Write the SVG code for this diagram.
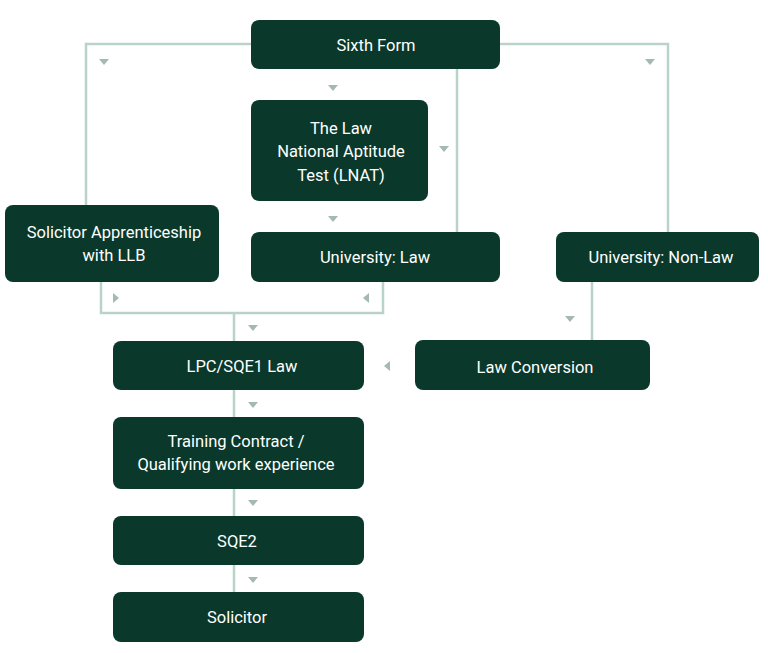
<svg xmlns="http://www.w3.org/2000/svg" width="768" height="653" viewBox="0 0 768 653">
<style>
.box{fill:#0a392b}
.t{font-family:Roboto,"Liberation Sans",sans-serif;font-size:16.5px;fill:#ffffff;text-anchor:middle}
.ln{fill:none;stroke:#b9d3c9;stroke-width:2.5}
.ah{fill:#a3b9b1}
</style>
<defs>
<polygon id="ad" points="-5,-3 5,-3 0,3"/>
<polygon id="ar" points="-3,-5 -3,5 3,0"/>
<polygon id="al" points="3,-5 3,5 -3,0"/>
</defs>
<rect width="768" height="653" fill="#ffffff"/>
<g id="connectors">
<polyline class="ln" points="252,44 86,44 86,205"/>
<polyline class="ln" points="499,44 668,44 668,232"/>
<line class="ln" x1="457" y1="69" x2="457" y2="232"/>
<polyline class="ln" points="101,282 101,313 383,313 383,282"/>
<line class="ln" x1="234" y1="313" x2="234" y2="592"/>
<line class="ln" x1="592" y1="282" x2="592" y2="340"/>
<g class="ah">
<use href="#ad" x="104" y="62"/>
<use href="#ad" x="333" y="88"/>
<use href="#ad" x="650" y="62"/>
<use href="#ad" x="444" y="149"/>
<use href="#ad" x="333" y="219"/>
<use href="#ar" x="116" y="298"/>
<use href="#al" x="366" y="298"/>
<use href="#ad" x="253" y="328"/>
<use href="#ad" x="570" y="319"/>
<use href="#al" x="387" y="366"/>
<use href="#ad" x="253" y="405"/>
<use href="#ad" x="253" y="503"/>
<use href="#ad" x="253" y="580"/>
</g>
</g>
<g id="sixth-form">
<rect class="box" x="251" y="20" width="249" height="49" rx="8"/>
<text class="t" x="376" y="51">Sixth Form</text>
</g>
<g id="lnat">
<rect class="box" x="251" y="100" width="177" height="101" rx="8"/>
<text class="t" x="341" y="134">The Law</text>
<text class="t" x="341" y="157">National Aptitude</text>
<text class="t" x="341" y="181">Test (LNAT)</text>
</g>
<g id="apprenticeship">
<rect class="box" x="5" y="205" width="214" height="77" rx="8"/>
<text class="t" x="114" y="238">Solicitor Apprenticeship</text>
<text class="t" x="114" y="261">with LLB</text>
</g>
<g id="uni-law">
<rect class="box" x="251" y="232" width="249" height="50" rx="8"/>
<text class="t" x="375" y="263">University: Law</text>
</g>
<g id="uni-nonlaw">
<rect class="box" x="556" y="232" width="203" height="50" rx="8"/>
<text class="t" x="661" y="263">University: Non-Law</text>
</g>
<g id="lpc">
<rect class="box" x="113" y="341" width="251" height="49" rx="8"/>
<text class="t" x="242" y="372">LPC/SQE1 Law</text>
</g>
<g id="law-conversion">
<rect class="box" x="415" y="340" width="235" height="50" rx="8"/>
<text class="t" x="535" y="373">Law Conversion</text>
</g>
<g id="training">
<rect class="box" x="113" y="417" width="251" height="72" rx="8"/>
<text class="t" x="236" y="447">Training Contract /</text>
<text class="t" x="236" y="470">Qualifying work experience</text>
</g>
<g id="sqe2">
<rect class="box" x="113" y="516" width="251" height="49" rx="8"/>
<text class="t" x="237" y="547">SQE2</text>
</g>
<g id="solicitor">
<rect class="box" x="113" y="592" width="251" height="50" rx="8"/>
<text class="t" x="237" y="623">Solicitor</text>
</g>
</svg>
